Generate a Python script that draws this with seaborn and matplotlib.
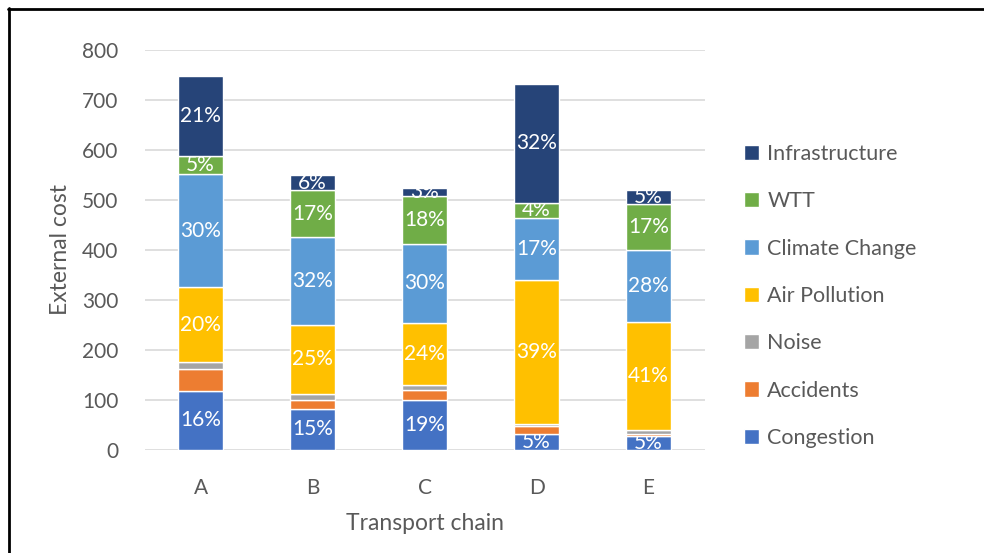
import matplotlib
matplotlib.use("Agg")
import matplotlib.pyplot as plt
from matplotlib.lines import Line2D
import seaborn as sns
import numpy as np

chains = ["A", "B", "C", "D", "E"]

# cost components, bottom to top of each stack
congestion = [119, 83, 100, 33, 28]
accidents = [44, 18, 20, 16, 4]
noise = [14, 12, 10, 4, 8]
air_pollution = [148, 138, 125, 287, 216]
climate_change = [227, 174, 157, 124, 144]
wtt = [36, 94, 95, 30, 92]
infrastructure = [160, 31, 16, 238, 28]

# data labels as printed on the chart
congestion_pct = ["16%", "15%", "19%", "5%", "5%"]
air_pct = ["20%", "25%", "24%", "39%", "41%"]
climate_pct = ["30%", "32%", "30%", "17%", "28%"]
wtt_pct = ["5%", "17%", "18%", "4%", "17%"]
infra_pct = ["21%", "6%", "3%", "32%", "5%"]

series = [
    ("Congestion", congestion, "#4472C4", congestion_pct),
    ("Accidents", accidents, "#ED7D31", None),
    ("Noise", noise, "#A5A5A5", None),
    ("Air Pollution", air_pollution, "#FFC000", air_pct),
    ("Climate Change", climate_change, "#5B9BD5", climate_pct),
    ("WTT", wtt, "#70AD47", wtt_pct),
    ("Infrastructure", infrastructure, "#264478", infra_pct),
]

sns.set_theme(style="white")
plt.rcParams["font.family"] = ["Lato", "DejaVu Sans"]
text_grey = "#595959"

fig = plt.figure(figsize=(9.84, 5.53), dpi=100)
ax = fig.add_axes([0.147, 0.186, 0.569, 0.724])

bottom = np.zeros(len(chains))
for name, vals, color, labels in series:
    sns.barplot(x=chains, y=vals, bottom=bottom, color=color, width=0.4,
                label=name, errorbar=None, saturation=1, ax=ax, zorder=3)
    if labels is not None:
        ax.bar_label(ax.containers[-1], labels=labels, label_type="center",
                     color="white", fontsize=15)
    bottom += np.array(vals)

ax.set_ylim(0, 800)
ax.set_yticks(range(0, 801, 100))
ax.set_xlim(-0.5, 4.5)
ax.yaxis.grid(True, color="#D9D9D9", linewidth=1.2, zorder=0)
ax.set_axisbelow(True)
for s in ["top", "right", "left", "bottom"]:
    ax.spines[s].set_visible(False)
ax.tick_params(axis="both", length=0, labelsize=15, colors=text_grey)
ax.tick_params(axis="y", pad=19)
ax.tick_params(axis="x", pad=20)
ax.set_xlabel("Transport chain", fontsize=16.5, color=text_grey, labelpad=11)
ax.set_ylabel("External cost", fontsize=16.5, color=text_grey, labelpad=8)

handles, names = ax.get_legend_handles_labels()
ax.legend(handles[::-1], names[::-1], loc="center left",
          bbox_to_anchor=(0.736, 0.465), bbox_transform=fig.transFigure,
          frameon=False, fontsize=15.5, labelcolor=text_grey,
          handlelength=0.7, handleheight=0.7, handletextpad=0.4,
          labelspacing=1.27)

# frame of the screenshot
fig.add_artist(Line2D([8 / 984, 1.0], [1 - 9 / 553, 1 - 9 / 553],
                      color="black", linewidth=2, transform=fig.transFigure))
fig.add_artist(Line2D([9 / 984, 9 / 984], [0.0, 1 - 8 / 553],
                      color="black", linewidth=2, transform=fig.transFigure))

fig.savefig("out.png", dpi=100)
plt.close(fig)
